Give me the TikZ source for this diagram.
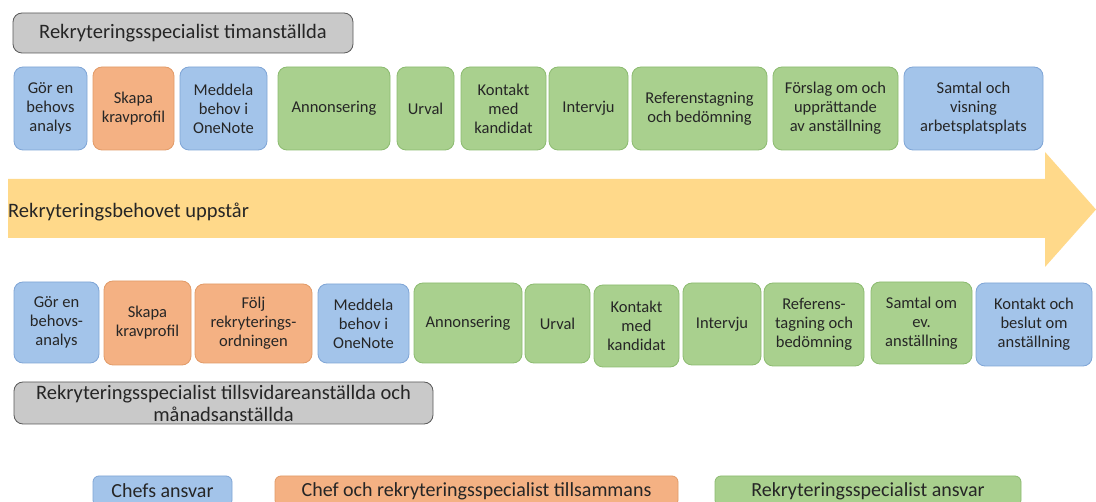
\documentclass[tikz,border=0pt]{standalone}
\usepackage{fontspec}
\setmainfont{Carlito}
\definecolor{blfill}{HTML}{A3C4EA}
\definecolor{bldraw}{HTML}{7FA5D6}
\definecolor{orfill}{HTML}{F4B183}
\definecolor{ordraw}{HTML}{E29B68}
\definecolor{grfill}{HTML}{A9D08E}
\definecolor{grdraw}{HTML}{8CBB70}
\definecolor{gyfill}{HTML}{C9C9C9}
\definecolor{gydraw}{HTML}{5A5A5A}
\definecolor{arrcol}{HTML}{FFD98A}
\definecolor{txt}{HTML}{262626}
\tikzset{
  box/.style={rounded corners=9pt, draw, line width=0.8pt, align=center, inner sep=1pt,
              font=\fontsize{16.5}{19}\selectfont, text=txt},
  bl/.style={box, fill=blfill, draw=bldraw},
  or/.style={box, fill=orfill, draw=ordraw},
  gr/.style={box, fill=grfill, draw=grdraw},
  gy/.style={box, fill=gyfill, draw=gydraw, font=\fontsize{20.5}{22}\selectfont},
  leg/.style={rounded corners=6pt, draw, line width=0.8pt, align=center, inner sep=1pt,
              font=\fontsize{20}{22}\selectfont, text=txt},
}
\newcommand\rbox[7]{\node[#1, minimum width={#4-#3}, minimum height={#6-#5}] (#2) at ({(#3+#4)/2},{(#5+#6)/2}) {#7};}
\begin{document}
\begin{tikzpicture}[x=1pt,y=-1pt]
\useasboundingbox (0,0) rectangle (1096,502);
\clip (0,0) rectangle (1096,502);
\fill[white] (0,0) rectangle (1096,502);
% arrow
\fill[arrcol] (8,179) -- (1045,179) -- (1045,152) -- (1096,209.5) -- (1045,267) -- (1045,238) -- (8,238) -- cycle;
\node[anchor=west, inner sep=0pt, font=\fontsize{20.5}{22}\selectfont, text=txt] (arrtxt) at (8,212) {Rekryteringsbehovet uppstår};
% top header
\rbox{gy}{h1}{13}{353}{13}{53}{Rekryteringsspecialist timanställda}
% top row
\rbox{bl}{t1}{14}{87}{67}{150}{Gör en\\behovs\\analys}
\rbox{or}{t2}{93}{174}{67}{150}{Skapa\\kravprofil}
\rbox{bl}{t3}{180}{267}{67}{150}{Meddela\\behov i\\OneNote}
\rbox{gr}{t4}{278}{390}{67}{150}{Annonsering}
\rbox{gr}{t5}{397}{454}{67}{150}{Urval}
\rbox{gr}{t6}{461}{546}{67}{150}{Kontakt\\med\\kandidat}
\rbox{gr}{t7}{549}{628}{67}{150}{Intervju}
\rbox{gr}{t8}{632}{767}{67}{150}{Referenstagning\\och bedömning}
\rbox{gr}{t9}{773}{898}{67}{150}{Förslag om och\\upprättande\\av anställning}
\rbox{bl}{t10}{904}{1043}{67}{150}{Samtal och\\visning\\arbetsplatsplats}
% bottom row
\rbox{bl}{b1}{14}{99}{282}{363}{Gör en\\behovs-\\analys}
\rbox{or}{b2}{104}{191}{281}{365}{Skapa\\kravprofil}
\rbox{or}{b3}{195}{312}{284}{363}{Följ\\rekryterings-\\ordningen}
\rbox{bl}{b4}{318}{409}{284}{363}{Meddela\\behov i\\OneNote}
\rbox{gr}{b5}{414}{522}{283}{363}{Annonsering}
\rbox{gr}{b6}{525}{590}{284}{363}{Urval}
\rbox{gr}{b7}{594}{679}{285}{367}{Kontakt\\med\\kandidat}
\rbox{gr}{b8}{683}{761}{283}{365}{Intervju}
\rbox{gr}{b9}{764}{864}{283}{366}{Referens-\\tagning och\\bedömning}
\rbox{gr}{b10}{871}{972}{282}{364}{Samtal om\\ev.\\anställning}
\rbox{bl}{b11}{976}{1092}{283}{366}{Kontakt och\\beslut om\\anställning}
% bottom header
\rbox{gy}{h2}{14}{433}{382}{424}{Rekryteringsspecialist tillsvidareanställda och\\månadsanställda}
% legend
\rbox{leg,fill=blfill,draw=bldraw}{l1}{93}{232}{476}{506}{Chefs ansvar}
\rbox{leg,fill=orfill,draw=ordraw}{l2}{275}{678}{476}{506}{Chef och rekryteringsspecialist tillsammans}
\rbox{leg,fill=grfill,draw=grdraw}{l3}{715}{1021}{476}{506}{Rekryteringsspecialist ansvar}
\end{tikzpicture}
\end{document}
